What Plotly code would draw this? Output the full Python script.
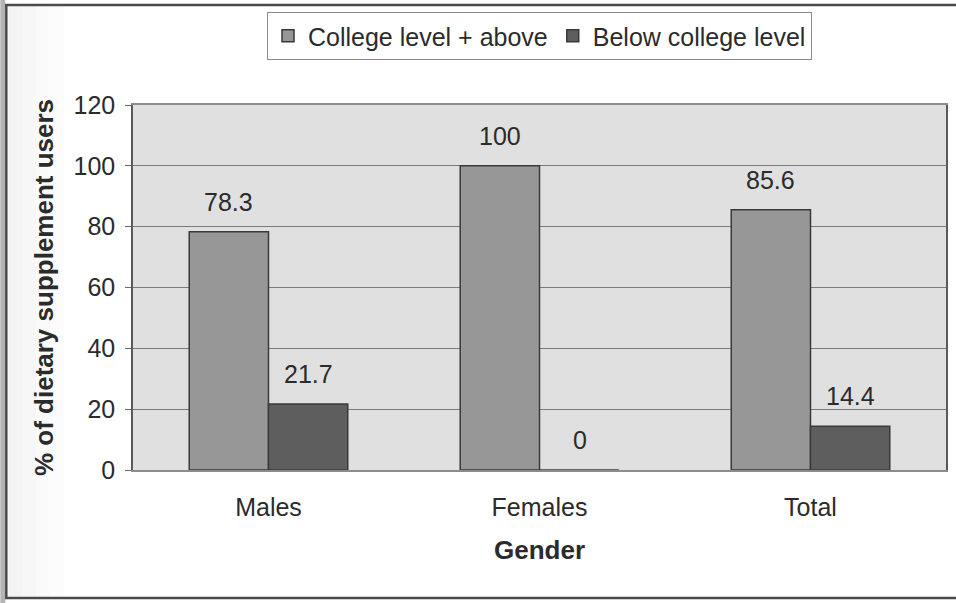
import plotly.graph_objects as go

# Share of dietary supplement users by education level within each gender group
categories = ["Males", "Females", "Total"]
college_above = [78.3, 100, 85.6]
below_college = [21.7, 0, 14.4]
series_names = ["College level + above", "Below college level"]
y_ticks = [0, 20, 40, 60, 80, 100, 120]

FONT = "Liberation Sans, Arial, sans-serif"
TEXT = "#2b2b2b"
W, H = 956, 603
L, R, T, B = 133, 8, 105, 133
PW, PH = W - L - R, H - T - B


def px_x(x):
    return (x - L) / PW


def px_y(y):
    return (H - B - y) / PH


fig = go.Figure()
fig.add_trace(go.Bar(
    name=series_names[0], x=categories, y=college_above,
    marker=dict(color="#979797", line=dict(color="#3a3a3a", width=1.5)),
))
fig.add_trace(go.Bar(
    name=series_names[1], x=categories, y=below_college,
    marker=dict(color="#5e5e5e", line=dict(color="#3a3a3a", width=1.5)),
))

# value labels floating above each bar
for vals, shift in ((college_above, -40), (below_college, 40)):
    for cat, v in zip(categories, vals):
        fig.add_annotation(
            x=cat, y=v, text=f"{v:g}", showarrow=False,
            xshift=shift, yshift=30, yanchor="middle",
            font=dict(family=FONT, size=25, color=TEXT),
        )

# page-edge shading on the left
fig.add_shape(type="rect", xref="paper", yref="paper",
              x0=px_x(0), x1=px_x(5), y0=px_y(H), y1=px_y(0),
              line=dict(width=0), fillcolor="#b4b4b4", layer="below")
for i, a in enumerate([0.045, 0.03, 0.02, 0.01]):
    fig.add_shape(type="rect", xref="paper", yref="paper",
                  x0=px_x(8 + i * 14), x1=px_x(22 + i * 14), y0=px_y(597), y1=px_y(6),
                  line=dict(width=0), fillcolor=f"rgba(0,0,0,{a})", layer="below")

# outer chart frame
fig.add_shape(type="rect", xref="paper", yref="paper",
              x0=px_x(6), x1=px_x(1000), y0=px_y(598), y1=px_y(5),
              line=dict(color="#4a4a4a", width=2.5), layer="below")

fig.update_layout(
    width=W, height=H,
    margin=dict(l=L, r=R, t=T, b=B),
    paper_bgcolor="white", plot_bgcolor="#e0e0e0",
    barmode="group", bargap=0.415, bargroupgap=0,
    font=dict(family=FONT, size=25, color=TEXT),
    showlegend=True,
    legend=dict(
        orientation="h", x=0.5, xanchor="center", y=px_y(12), yanchor="top",
        bgcolor="white", bordercolor="#8a8a8a", borderwidth=1,
        font=dict(family=FONT, size=25, color=TEXT),
        itemwidth=30, tracegroupgap=0,
    ),
    xaxis=dict(
        title=dict(text="<b>Gender</b>", font=dict(family=FONT, size=26, color=TEXT), standoff=21),
        showline=True, linecolor="#8c8c8c", linewidth=1.5, mirror=True,
        ticks="", ticklabelstandoff=14, tickfont=dict(size=25),
    ),
    yaxis=dict(
        title=dict(text="<b>% of dietary supplement users</b>",
                   font=dict(family=FONT, size=26, color=TEXT), standoff=12),
        range=[0, 120], tickvals=y_ticks,
        showgrid=True, gridcolor="#7a7a7a", gridwidth=1,
        showline=True, linecolor="#5a5a5a", linewidth=1.5, mirror=True,
        ticks="outside", ticklen=6, tickcolor="#6a6a6a", ticklabelstandoff=5,
        tickfont=dict(size=25), zeroline=False,
    ),
)

fig.write_html("out.html")
